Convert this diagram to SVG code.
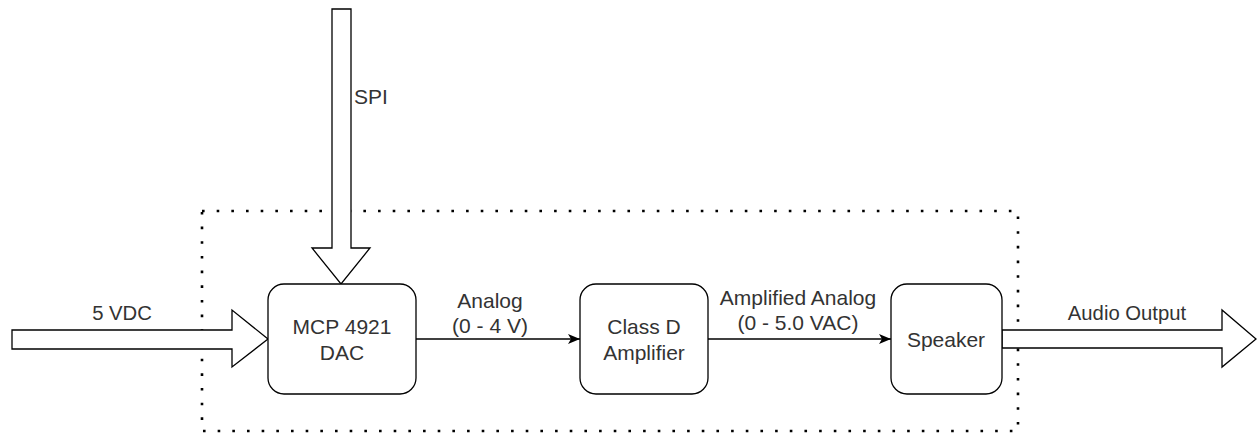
<svg xmlns="http://www.w3.org/2000/svg" width="1257" height="436" viewBox="0 0 1257 436">
<style>
.box{fill:#fff;stroke:#000;stroke-width:1.3}
.big{fill:#fff;stroke:#000;stroke-width:1.3;stroke-linejoin:miter}
.lbl{font-family:"Liberation Sans",Arial,sans-serif;font-size:21px;fill:#333;text-anchor:middle}
.sm{font-size:20.3px}
.conn{stroke:#000;stroke-width:1.3;fill:none}
.dots{fill:none;stroke:#000;stroke-width:2.6;stroke-dasharray:2.6 12.07}
</style>
<defs>
<marker id="arr" markerWidth="12" markerHeight="10" viewBox="0 0 12 10" refX="12" refY="5" orient="auto" markerUnits="userSpaceOnUse">
<path d="M0,0 L12,5 L0,10 L3,5 Z" fill="#000"/>
</marker>
</defs>
<g id="boundary">
<rect class="dots" x="202" y="211" width="816" height="220"/>
</g>
<g id="connectors">
<path class="big" d="M12,330 L232,330 L232,310 L268,339 L232,367 L232,349 L12,349 Z"/>
<path class="big" d="M332,9 L351,9 L351,248 L370,248 L341,284 L312,248 L332,248 Z"/>
<path class="big" d="M1002,330 L1222,330 L1222,310 L1256,339 L1222,367 L1222,348 L1002,348 Z"/>
<line class="conn" x1="416" y1="339" x2="580" y2="339" marker-end="url(#arr)"/>
<line class="conn" x1="708" y1="339" x2="891" y2="339" marker-end="url(#arr)"/>
<text class="lbl sm" x="122" y="320">5 VDC</text>
<text class="lbl" x="371" y="104">SPI</text>
<text class="lbl" x="490" y="308">Analog</text>
<text class="lbl" x="490" y="333">(0 - 4 V)</text>
<text class="lbl" x="798" y="305">Amplified Analog</text>
<text class="lbl" x="798" y="330">(0 - 5.0 VAC)</text>
<text class="lbl sm" x="1127" y="320">Audio Output</text>
</g>
<g id="dac">
<rect class="box" x="268" y="284" width="148" height="110" rx="16" ry="16"/>
<text class="lbl" x="342" y="334">MCP 4921</text>
<text class="lbl" x="342" y="360">DAC</text>
</g>
<g id="amp">
<rect class="box" x="580" y="284" width="128" height="110" rx="16" ry="16"/>
<text class="lbl" x="644" y="334">Class D</text>
<text class="lbl" x="644" y="360">Amplifier</text>
</g>
<g id="speaker">
<rect class="box" x="891" y="284" width="111" height="110" rx="16" ry="16"/>
<text class="lbl" x="946" y="347">Speaker</text>
</g>
</svg>
